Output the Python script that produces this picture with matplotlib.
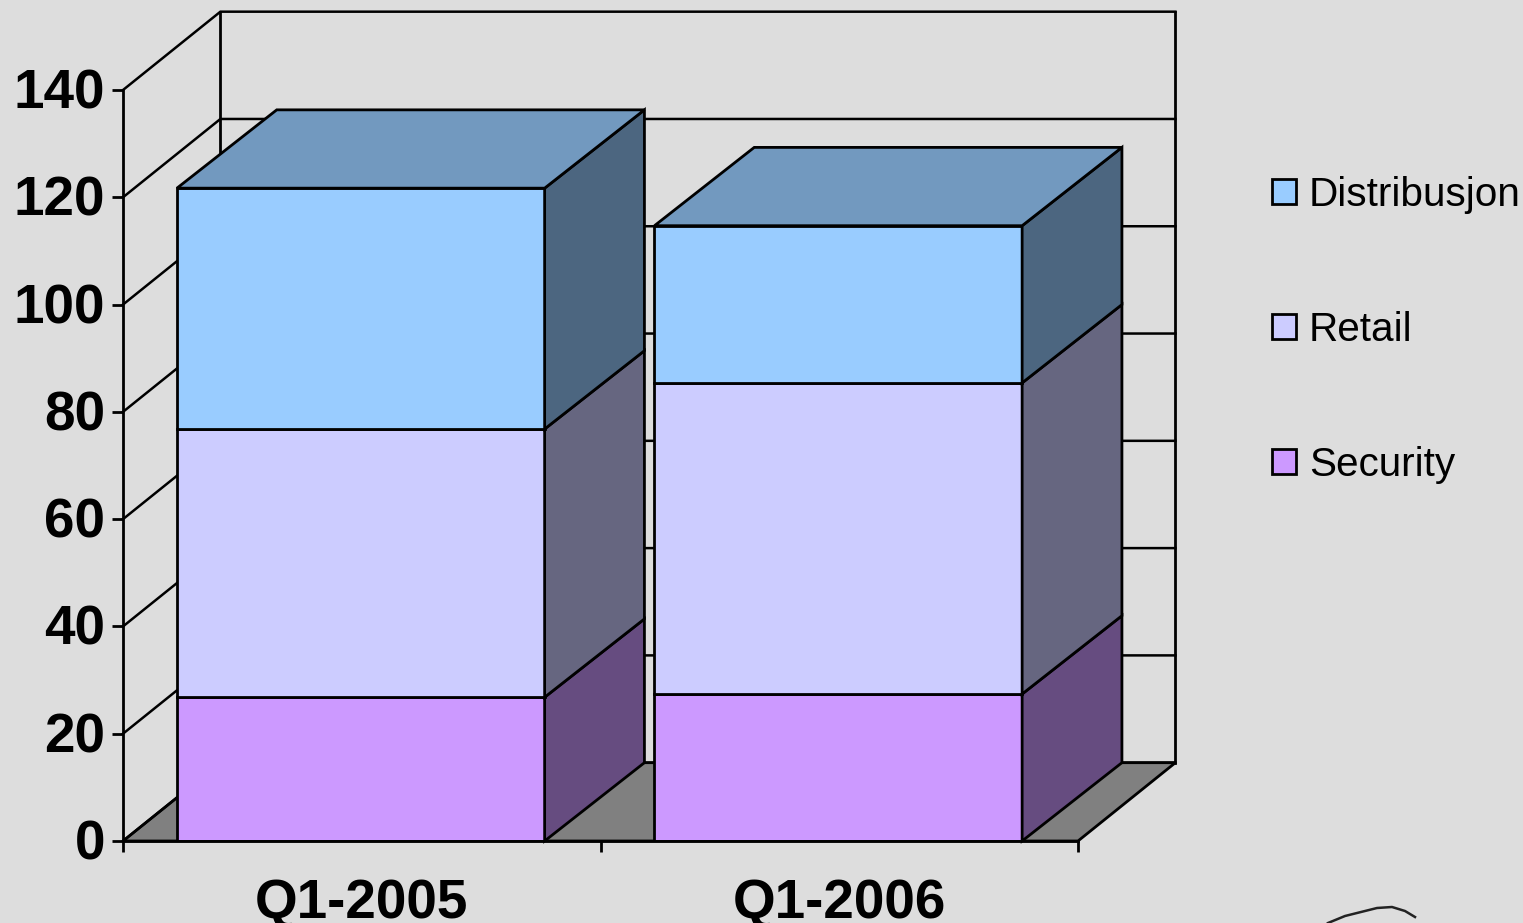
import matplotlib
matplotlib.use('Agg')
import matplotlib.pyplot as plt
from matplotlib.patches import Patch, Polygon
from matplotlib.transforms import ScaledTranslation

categories = ['Q1-2005', 'Q1-2006']
security = [26.8, 27.4]
retail = [50.0, 58.0]
distribusjon = [44.9, 29.3]
y_ticks = [0, 20, 40, 60, 80, 100, 120, 140]

plt.rcParams['font.family'] = ['Liberation Sans', 'DejaVu Sans']

BG = '#DDDDDD'
LW = 2.0

fig = plt.figure(figsize=(15.23, 9.23), dpi=100, facecolor=BG)
ax = fig.add_axes([123 / 1523, (923 - 841) / 923, 955 / 1523, 751 / 923])
ax.set_xlim(0, 2)
ax.set_ylim(0, 140)
ax.patch.set_alpha(0)

# depth of the fake 3d walls and of the bars, in data units
wall_dx, wall_dy = 0.204, 14.6
bar_dx, bar_dy = 0.209, 14.6
bar_w = 0.77
bar_shift = -0.002

# floor
ax.add_patch(Polygon([(0, 0), (wall_dx, wall_dy), (2 + wall_dx, wall_dy), (2, 0)],
                     fc='#808080', ec='black', lw=LW, clip_on=False, zorder=1))

# grid on the left and back walls
for t in y_ticks:
    ax.plot([0, wall_dx, 2 + wall_dx], [t, t + wall_dy, t + wall_dy],
            color='black', lw=LW * 0.9, clip_on=False, zorder=1, solid_joinstyle='miter')
ax.plot([wall_dx, wall_dx], [wall_dy, 140 + wall_dy], color='black', lw=LW, clip_on=False, zorder=1)
ax.plot([2 + wall_dx, 2 + wall_dx], [wall_dy, 140 + wall_dy], color='black', lw=LW, clip_on=False, zorder=1)

series = [
    ('Security', security, '#CC99FF', '#664C80'),
    ('Retail', retail, '#CCCCFF', '#666680'),
    ('Distribusjon', distribusjon, '#99CCFF', '#4C6680'),
]
top_color = '#7299BF'

for i in range(len(categories)):
    xc = i + 0.5 + bar_shift
    x0 = xc - bar_w / 2
    x1 = xc + bar_w / 2
    bottom = 0
    for name, vals, color, side in series:
        v = vals[i]
        ax.bar(xc, v, bar_w, bottom=bottom, color=color, edgecolor='black', linewidth=LW, zorder=3)
        ax.add_patch(Polygon([(x1, bottom), (x1 + bar_dx, bottom + bar_dy),
                              (x1 + bar_dx, bottom + v + bar_dy), (x1, bottom + v)],
                             fc=side, ec='black', lw=LW, clip_on=False, zorder=3))
        bottom += v
    ax.add_patch(Polygon([(x0, bottom), (x0 + bar_dx, bottom + bar_dy),
                          (x1 + bar_dx, bottom + bar_dy), (x1, bottom)],
                         fc=top_color, ec='black', lw=LW, clip_on=False, zorder=3))

# axes
for s in ['top', 'right']:
    ax.spines[s].set_visible(False)
for s in ['left', 'bottom']:
    ax.spines[s].set_linewidth(LW)
    ax.spines[s].set_zorder(4)
ax.set_yticks(y_ticks)
ax.set_yticklabels(y_ticks, fontsize=39.5, fontweight='bold')
ax.tick_params(axis='y', length=8, width=LW, pad=5)
# nudge the y labels up a little
for lab in ax.get_yticklabels():
    lab.set_transform(lab.get_transform() + ScaledTranslation(0, 1.5 / 100, fig.dpi_scale_trans))
ax.set_xticks([0, 1, 2])
ax.set_xticklabels([])
ax.tick_params(axis='x', which='major', length=8, width=LW)
ax.set_xticks([0.5, 1.5], minor=True)
ax.set_xticklabels(categories, minor=True, fontsize=39.5, fontweight='bold')
ax.tick_params(axis='x', which='minor', length=0, pad=26.5)

handles = [Patch(fc=c, ec='black', lw=LW) for _, _, c, _ in series[::-1]]
labels = [n for n, _, _, _ in series[::-1]]
fig.legend(handles, labels, loc='upper left', bbox_to_anchor=(1272 / 1523, 1 - 176 / 923),
           frameon=False, fontsize=29.2, handlelength=0.58, handleheight=0.58,
           handletextpad=0.33, labelspacing=2.39, borderpad=0, borderaxespad=0)

# pen stroke cut off at the bottom right corner
stroke_x = [1328, 1345, 1377, 1392, 1405, 1415]
stroke_y = [923, 916, 908, 907, 911, 917]
fig.add_artist(plt.Line2D([x / 1523 for x in stroke_x], [1 - y / 923 for y in stroke_y],
                          color='#222222', lw=1.8))

fig.savefig('out.png', dpi=100, facecolor=BG)
